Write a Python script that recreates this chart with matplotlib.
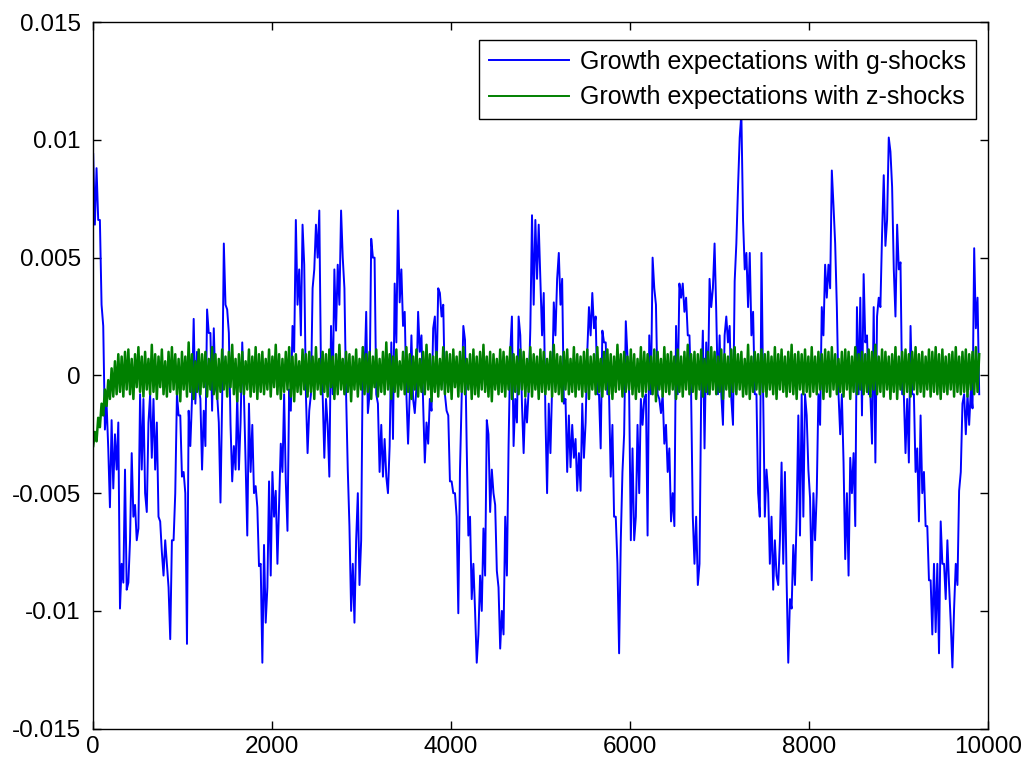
import numpy as np
import matplotlib.pyplot as plt

plt.rcParams['font.family'] = ['Liberation Sans', 'DejaVu Sans']

# growth expectations with g-shocks (units of 1e-4)
g_shocks = [
    94, 64, 88, 66, 66, 30, 21, -23, -12, -31, -56, -19, -48, -25, -40, -20, -99, -80, -88, -40,
    -91, -88, -70, -33, -60, -55, -70, -65, -8, -40, -10, -50, -58, -20, -8, -35, -10, -40, -20, -60,
    -62, -75, -85, -70, -80, -90, -112, -70, -70, -50, -8, -17, -17, -43, -41, -50, -114, -15, -30, -10,
    24, -12, 10, -5, -10, -40, -15, -30, 28, 18, 18, -15, 20, -5, -8, -20, -54, -10, 56, 30,
    28, 18, -21, -45, -30, -40, -8, -40, -20, 14,
    -8, -37, -68, -12, -41, -21, -50, -47, -56, -81, -80, -122, -72, -105, -90, -45, -85, -41, -60, -49,
    -80, -55, -29, -41, -8, -45, -66, -6, -15, 21, 10, 66, 30, 45, 17, 64, 47, -8, -33, -15,
    -8, 37, 45, 64, 50, 70, 2, -8, -35, -10, -21, -43, 21, -8, 45, 19, 47, 30, 70, 50,
    37, -8, -40, -64, -100, -80, -105, -70, -50, -89, -70, 12, 0, 27, -16, -8, 58, 50, 50, -8,
    -12, -41, -21, -43, -27, -43, -50, -30, 14, -27,
    39, 14, 70, 31, 45, 21, 27, -8, -29, -8, 17, -10, -16, -5, 27, 10, 17, -12, -37, -20,
    -29, -10, -15, 20, 25, -2, 37, 35, 25, 30, -8, -15, -17, -45, -45, -50, -50, -60, -101, -40,
    -10, 21, 15, -30, -68, -60, -95, -80, -100, -122, -110, -85, -100, -65, -85, -19, -25, -58, -40, -50,
    -55, -83, -90, -116, -100, -110, -60, -85, -30, 10, 25, -30, -10, -20, 25, 17, -12, -33, -10, -20,
    -6, 20, 68, 30, 66, 41, 64, 41, 17, 35,
    -17, -50, -12, -33, -5, 31, 17, 41, 52, 30, 41, -12, -10, -41, -17, -39, -21, -35, -27, -49,
    -33, -49, -12, -35, -20, 10, 29, 17, 35, 20, 25, -8, -8, -31, 19, 14, 14, -8, -8, -43,
    -21, -60, -60, -80, -118, -70, -41, -25, 23, 8, -8, -70, -31, -70, -60, -21, -50, -10, -21, -10,
    -8, -68, 17, -8, 50, 37, 30, -8, -10, -16, -8, -29, -21, -41, -31, -62, -50, -64, 21, -8,
    39, 33, 39, 27, 33, 17, 17, -8, -60, -80,
    -60, -89, -80, -8, 19, -31, 14, -8, 41, 29, 37, 56, 27, -8, 17, -8, -21, 17, 25, 14,
    21, -10, -21, 40, 56, 80, 101, 111, 66, 45, 52, 29, 52, 17, 27, -8, -8, -50, -60, 52,
    -8, -60, -40, -50, -80, -60, -91, -70, -85, -89, -70, -37, -80, -41, -87, -122, -95, -99, -72, -89,
    -60, -17, -68, -8, -60, -8, -17, -40, -52, -87, -50, -70, -50, -8, -21, 29, 17, 47, 33, 47,
    37, 87, 72, 56, 29, -8, -25, -8, -37, -78,
    -50, -85, -35, -50, -33, -64, 29, -8, 33, -17, 43, 14, 17, -8, -8, -29, 29, -37, 25, 33,
    29, 60, 85, 55, 66, 101, 95, 80, 45, 25, 64, 45, 48, -8, -8, -33, -10, -37, 21, -8,
    -8, -41, -31, -62, -17, -50, -41, -64, -64, -87, -87, -110, -80, -109, -80, -118, -62, -80, -80, -95,
    -70, -89, -105, -124, -99, -80, -89, -49, -41, -12, -8, -25, -8, -21, -6, -14, 54, 20, 33, -8,
]

# growth expectations with z-shocks (units of 1e-4)
z_shocks = [
    -30, -24, -28, -18, -22, -12, -17, -6, -13, -2,
    -10, 3, -9, 6, -8, 9, -7, 8, -9, 10,
    -6, 11, -8, 7, -10, 9, -5, 12, -7, 8,
    -9, 10, -6, 7, -8, 13, -7, 9, -10, 8,
    -5, 11, -8, 6, -9, 10, -7, 12, -6, 9,
    -8, 7, -11, 10, -6, 8, -9, 14, -7, 9,
    -10, 6, -7, 11, -8, 9, -5, 10, -9, 7,
    -6, 12, -8, 9, -10, 7, -7, 11, -6, 8,
    -9, 10, -5, 13, -8, 7, -11, 9, -7, 10,
    -8, 6, -6, 11, -9, 8, -7, 12, -10, 9,
    -7, 10, -8, 7, -6, 11, -9, 8, -5, 13,
    -8, 9, -10, 7, -7, 10, -6, 12, -9, 8,
    -11, 9, -7, 6, -8, 11, -6, 9, -9, 10,
    -7, 8, -10, 12, -6, 7, -8, 10, -7, 9,
    -9, 11, -5, 8, -10, 9, -8, 13, -6, 7,
    -8, 10, -7, 9, -11, 8, -6, 11, -9, 7,
    -6, 12, -8, 9, -7, 10, -10, 8, -5, 11,
    -9, 7, -7, 10, -8, 14, -6, 9, -10, 8,
    -7, 11, -9, 6, -6, 10, -8, 12, -7, 9,
    -10, 8, -6, 11, -9, 7, -7, 10, -8, 13,
    -6, 9, -11, 8, -7, 10, -9, 7, -6, 12,
    -8, 10, -7, 9, -10, 11, -5, 8, -9, 10,
    -7, 12, -8, 7, -6, 9, -10, 11, -8, 8,
    -9, 10, -6, 13, -7, 8, -9, 10, -11, 9,
    -6, 7, -8, 11, -7, 10, -9, 8, -6, 12,
    -10, 9, -7, 8, -8, 11, -6, 10, -9, 7,
    -7, 12, -9, 9, -6, 8, -10, 11, -7, 10,
    -8, 7, -6, 10, -9, 13, -7, 9, -8, 8,
    -11, 10, -6, 11, -8, 7, -7, 12, -9, 9,
    -6, 8, -9, 10, -7, 11, -10, 8, -6, 9,
    -8, 12, -7, 7, -9, 10, -6, 11, -8, 9,
    -10, 8, -7, 13, -6, 9, -9, 10, -7, 8,
    -6, 11, -8, 9, -10, 7, -7, 12, -9, 10,
    -7, 9, -6, 8, -8, 11, -11, 10, -6, 7,
    -9, 12, -7, 9, -8, 10, -6, 8, -10, 11,
    -7, 8, -9, 10, -6, 13, -8, 9, -7, 10,
    -10, 9, -6, 11, -9, 7, -7, 10, -8, 12,
    -6, 10, -8, 8, -7, 11, -10, 9, -6, 8,
    -9, 11, -7, 12, -8, 9, -6, 10, -9, 7,
    -8, 13, -10, 8, -7, 10, -6, 9, -8, 11,
    -7, 9, -9, 10, -6, 8, -8, 12, -10, 9,
    -6, 11, -7, 8, -9, 10, -7, 13, -8, 9,
    -10, 10, -6, 9, -8, 11, -7, 8, -9, 12,
    -7, 8, -8, 10, -6, 9, -10, 11, -7, 10,
    -9, 12, -6, 9, -8, 7, -7, 10, -9, 11,
    -6, 10, -10, 8, -7, 12, -8, 9, -6, 10,
    -8, 9, -7, 11, -9, 10, -6, 13, -8, 8,
    -7, 11, -9, 10, -6, 8, -10, 9, -7, 12,
    -10, 8, -6, 10, -8, 11, -7, 9, -9, 10,
    -6, 12, -8, 9, -7, 10, -9, 8, -6, 11,
    -9, 10, -7, 12, -8, 9, -10, 11, -7, 8,
    -8, 9, -6, 10, -9, 12, -7, 8, -8, 10,
    -7, 11, -9, 9, -6, 10, -8, 12, -7, 9,
]

labels = ['Growth expectations with g-shocks', 'Growth expectations with z-shocks']
last_period = 9900

g = np.array(g_shocks) * 1e-4
z = np.array(z_shocks) * 1e-4
tg = np.linspace(0, last_period, len(g))
tz = np.linspace(0, last_period, len(z))

fig = plt.figure(figsize=(10.24, 7.63), dpi=100)
ax = fig.add_axes([0.091, 0.045, 0.874, 0.926])
ax.plot(tg, g, color=(0, 0, 1), lw=1.4, label=labels[0])
ax.plot(tz, z, color=(0, 0.5, 0), lw=1.8, label=labels[1])

ax.set_xlim(0, 10000)
ax.set_ylim(-0.015, 0.015)
ax.set_xticks(range(0, 10001, 2000))
ax.set_yticks([-0.015, -0.01, -0.005, 0, 0.005, 0.01, 0.015])
ax.set_yticklabels(['-0.015', '-0.01', '-0.005', '0', '0.005', '0.01', '0.015'])
ax.tick_params(direction='in', top=True, right=True, length=6, width=1,
               labelsize=17.5)
ax.tick_params(axis='y', pad=9)
ax.tick_params(axis='x', pad=5)
for s in ax.spines.values():
    s.set_linewidth(1)

leg = ax.legend(loc='upper right', bbox_to_anchor=(0.9866, 0.9745), borderaxespad=0,
                fancybox=False, edgecolor='k', framealpha=1, fontsize=18,
                handlelength=3.2, handletextpad=0.45, labelspacing=0.45,
                borderpad=0.4)
leg.get_frame().set_linewidth(1)
for line in leg.get_lines():
    line.set_linewidth(1.4)

fig.savefig('out.png', dpi=100)
plt.close()
